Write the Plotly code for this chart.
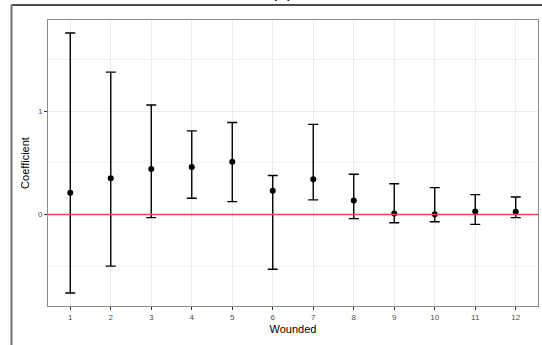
import plotly.graph_objects as go

wounded = [1, 2, 3, 4, 5, 6, 7, 8, 9, 10, 11, 12]
coef = [0.21, 0.35, 0.44, 0.46, 0.51, 0.23, 0.34, 0.135, 0.01, 0.003, 0.03, 0.026]
upper = [1.757, 1.378, 1.06, 0.81, 0.89, 0.378, 0.872, 0.39, 0.298, 0.26, 0.192, 0.17]
lower = [-0.76, -0.50, -0.03, 0.157, 0.125, -0.53, 0.141, -0.04, -0.08, -0.07, -0.096, -0.03]

err_plus = [u - c for u, c in zip(upper, coef)]
err_minus = [c - l for c, l in zip(coef, lower)]

fig = go.Figure()
fig.add_trace(go.Scatter(
    x=wounded, y=coef, mode="markers",
    marker=dict(color="black", size=6),
    error_y=dict(type="data", symmetric=False, array=err_plus, arrayminus=err_minus,
                 color="black", thickness=1.4, width=5),
    showlegend=False, cliponaxis=False,
))

fig.add_hline(y=0, line=dict(color="#e8474a", width=1.5), layer="above")

# outer frame (partial, from a multi-panel figure)
fig.add_shape(type="line", xref="paper", yref="paper", x0=-0.0745, x1=1.02, y0=1.0524, y1=1.0524,
              line=dict(color="#111111", width=1.6))
fig.add_shape(type="line", xref="paper", yref="paper", x0=-0.0745, x1=-0.0745, y0=1.0524, y1=-0.2,
              line=dict(color="#6e6e6e", width=2))

fig.add_annotation(text="(a)", xref="paper", yref="paper", x=0.4776, y=1.0524, yshift=2,
                   xanchor="center", yanchor="bottom", showarrow=False,
                   font=dict(size=18, color="black"))

axis_common = dict(
    showline=True, linecolor="#8a8a8a", linewidth=1, mirror=True,
    showgrid=True, gridcolor="#ebebeb", gridwidth=1,
    zeroline=False, ticks="outside", ticklen=3, tickcolor="#333333", tickwidth=1,
    tickfont=dict(size=8, color="#4d4d4d"),
)

fig.update_xaxes(
    **axis_common, range=[0.45, 12.55], tickmode="array", tickvals=wounded,
    ticktext=[str(w) for w in wounded],
    title=dict(text="Wounded", font=dict(size=11, color="black"), standoff=4),
)
fig.update_yaxes(
    **axis_common, range=[-0.886, 1.883], tickmode="array", tickvals=[0, 1], ticktext=["0", "1"],
    minor=dict(tickvals=[-0.5, 0.5, 1.5], showgrid=True, gridcolor="#f2f2f2", gridwidth=0.7, ticks=""),
    title=dict(text="Coefficient", font=dict(size=11, color="black"), standoff=6),
)

fig.update_layout(
    width=542, height=345,
    margin=dict(l=48, r=4, t=20, b=39),
    plot_bgcolor="white", paper_bgcolor="white",
    font=dict(family="Liberation Sans, Arial, sans-serif"),
)

fig.write_html("out.html", config={"displayModeBar": False},
               post_script="document.body.style.margin='0';")
